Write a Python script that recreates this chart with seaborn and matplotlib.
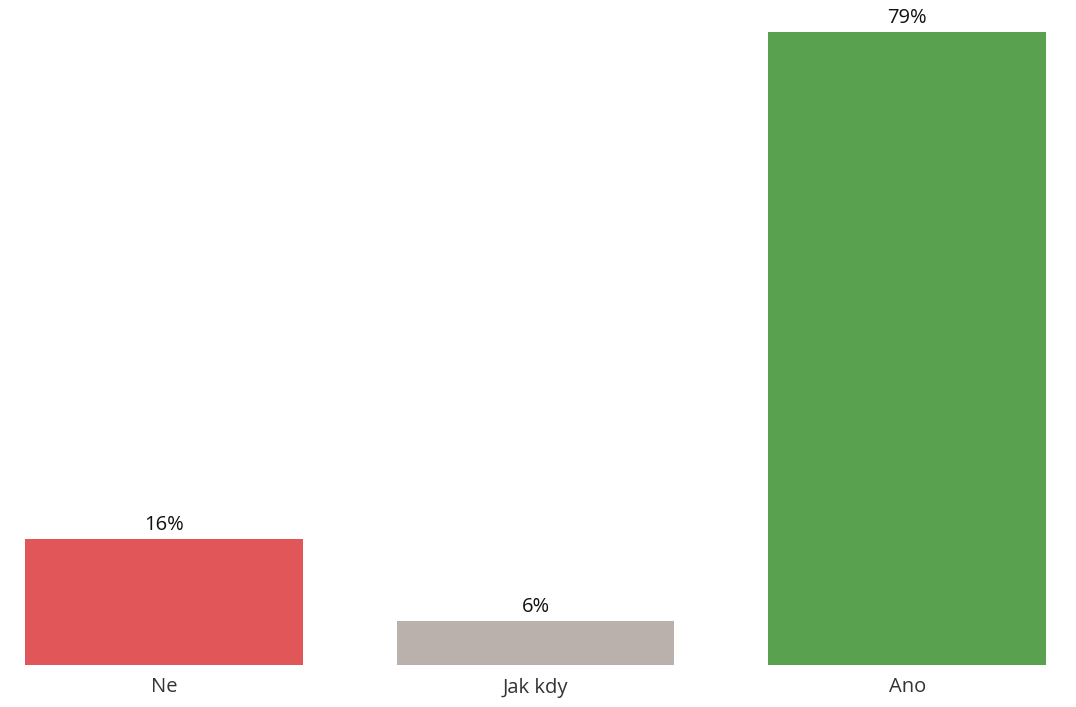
import matplotlib
matplotlib.use("Agg")
import matplotlib.pyplot as plt
import seaborn as sns
import pandas as pd

categories = ["Ne", "Jak kdy", "Ano"]
values = [15.7, 5.5, 78.8]
labels = ["16%", "6%", "79%"]
colors = ["#E15759", "#BAB0AC", "#59A14F"]

sns.set_theme(style="white")
plt.rcParams['font.family'] = ['Open Sans', 'DejaVu Sans']

df = pd.DataFrame({"cat": categories, "val": values})

W, H = 1076, 707
fig = plt.figure(figsize=(W / 100, H / 100), dpi=100)
ax = fig.add_axes([25 / W, (H - 665) / H, (1046 - 25) / W, 665 / H])

bw = 278 / 372
sns.barplot(data=df, x="cat", y="val", hue="cat", palette=colors, width=bw,
            legend=False, ax=ax, saturation=1, linewidth=0)

ax.set_xlim(-bw / 2, 2 + bw / 2)
ax.set_ylim(0, 665 / 8.03)

for i, (v, lab) in enumerate(zip(values, labels)):
    ax.annotate(lab, (i, v), xytext=(0, 3), textcoords="offset points",
                ha="center", va="bottom", fontsize=14.5, color="#111111")

for s in ax.spines.values():
    s.set_visible(False)
ax.set_yticks([])
ax.set_xlabel("")
ax.set_ylabel("")
ax.tick_params(axis="x", length=0, pad=9, labelsize=14.5, labelcolor="#333333")

fig.savefig("out.png", dpi=100)
